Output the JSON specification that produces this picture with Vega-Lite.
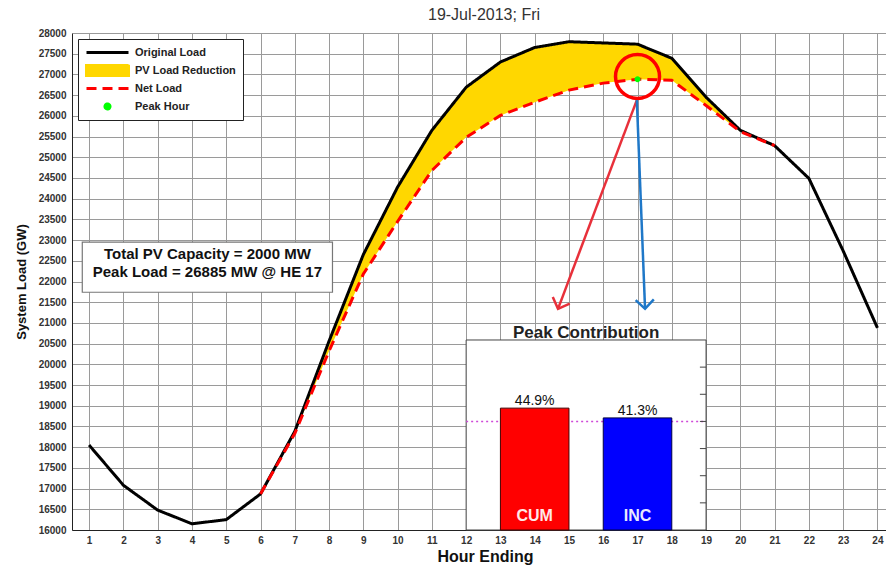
{
  "$schema": "https://vega.github.io/schema/vega-lite/v6.json",
  "width": 814,
  "height": 497,
  "autosize": {"type": "none"},
  "padding": {"left": 72, "top": 33, "right": 0, "bottom": 37},
  "background": "white",
  "title": {"text": "19-Jul-2013; Fri", "fontSize": 16, "fontWeight": "normal", "color": "#333", "font": "Liberation Sans", "offset": 5, "dx": 5},
  "config": {
    "view": {"stroke": null},
    "font": "Liberation Sans",
    "axis": {
      "labelFont": "Liberation Sans", "labelFontWeight": "bold", "labelFontSize": 10, "labelColor": "#333",
      "titleFont": "Liberation Sans", "titleFontWeight": "bold", "titleColor": "#111",
      "gridColor": "#9a9a9a", "gridOpacity": 1, "gridWidth": 1,
      "domainColor": "#222", "domainWidth": 1, "ticks": false, "labelOverlap": false
    },
    "legend": {
      "orient": "top-left", "offset": 6, "padding": 7,
      "strokeColor": "#222", "fillColor": "white",
      "symbolSize": 1764, "symbolStrokeWidth": 3, "clipHeight": 13, "rowPadding": 5,
      "labelFontSize": 11, "labelFontWeight": "bold", "labelFont": "Liberation Sans", "labelColor": "#222", "labelOffset": 5,
      "symbolOpacity": 1
    }
  },
  "datasets": {
    "load": [
      {"hour": 1, "original": 18050, "net": null},
      {"hour": 2, "original": 17080, "net": null},
      {"hour": 3, "original": 16480, "net": null},
      {"hour": 4, "original": 16150, "net": null},
      {"hour": 5, "original": 16250, "net": null},
      {"hour": 6, "original": 16870, "net": 16870},
      {"hour": 7, "original": 18380, "net": 18330},
      {"hour": 8, "original": 20560, "net": 20320},
      {"hour": 9, "original": 22650, "net": 22180},
      {"hour": 10, "original": 24280, "net": 23450},
      {"hour": 11, "original": 25650, "net": 24680},
      {"hour": 12, "original": 26690, "net": 25480},
      {"hour": 13, "original": 27300, "net": 26010},
      {"hour": 14, "original": 27650, "net": 26330},
      {"hour": 15, "original": 27790, "net": 26620},
      {"hour": 16, "original": 27760, "net": 26790},
      {"hour": 17, "original": 27730, "net": 26885},
      {"hour": 18, "original": 27390, "net": 26860},
      {"hour": 19, "original": 26450, "net": 26250},
      {"hour": 20, "original": 25650, "net": 25620},
      {"hour": 21, "original": 25280, "net": 25280},
      {"hour": 22, "original": 24490, "net": null},
      {"hour": 23, "original": 22740, "net": null},
      {"hour": 24, "original": 20880, "net": null}
    ],
    "inset": [
      {"metric": "CUM", "pct": 44.9, "label": "44.9%"},
      {"metric": "INC", "pct": 41.3, "label": "41.3%"}
    ]
  },
  "layer": [
    {
      "data": {"name": "load"},
      "layer": [
        {
          "transform": [{"filter": "datum.net != null"}],
          "mark": {"type": "area", "opacity": 1},
          "encoding": {
            "x": {"field": "hour", "type": "quantitative", "scale": {"domain": [0.5, 24.25], "nice": false, "zero": false},
              "axis": {"values": [1,2,3,4,5,6,7,8,9,10,11,12,13,14,15,16,17,18,19,20,21,22,23,24], "tickCount": 100, "format": "d", "labelOverlap": false, "title": "Hour Ending", "titleFontSize": 16, "labelPadding": 5, "titlePadding": 3, "titleX": 413}},
            "y": {"field": "original", "type": "quantitative", "scale": {"domain": [16000, 28000], "nice": false, "zero": false},
              "axis": {"values": [16000,16500,17000,17500,18000,18500,19000,19500,20000,20500,21000,21500,22000,22500,23000,23500,24000,24500,25000,25500,26000,26500,27000,27500,28000], "tickCount": 100, "labelOverlap": false, "format": "d", "title": "System Load (GW)", "titleFontSize": 13, "labelPadding": 6, "titlePadding": 10}},
            "y2": {"field": "net"},
            "color": {"datum": "PV Load Reduction", "type": "nominal",
              "scale": {"domain": ["Original Load", "PV Load Reduction", "Net Load", "Peak Hour"], "range": ["#000000", "#FFD700", "#FF0000", "#00FF00"]},
              "legend": {"title": null}}
          }
        },
        {
          "mark": {"type": "line", "strokeWidth": 3},
          "encoding": {
            "x": {"field": "hour", "type": "quantitative"},
            "y": {"field": "original", "type": "quantitative"},
            "color": {"datum": "Original Load", "type": "nominal", "legend": {"title": null}},
            "strokeDash": {"datum": "Original Load", "type": "nominal",
              "scale": {"domain": ["Original Load", "PV Load Reduction", "Net Load", "Peak Hour"], "range": [[1, 0], [1, 0], [10, 6], [1, 0]]},
              "legend": {"title": null}}
          }
        },
        {
          "transform": [{"filter": "datum.net != null"}],
          "mark": {"type": "line", "strokeWidth": 3},
          "encoding": {
            "x": {"field": "hour", "type": "quantitative"},
            "y": {"field": "net", "type": "quantitative"},
            "color": {"datum": "Net Load", "type": "nominal", "legend": {"title": null}},
            "strokeDash": {"datum": "Net Load", "type": "nominal", "legend": {"title": null}}
          }
        },
        {
          "transform": [{"filter": "datum.hour == 17"}],
          "mark": {"type": "point", "filled": true, "size": 2500, "opacity": 1},
          "encoding": {
            "x": {"field": "hour", "type": "quantitative"},
            "y": {"field": "net", "type": "quantitative"},
            "color": {"datum": "Peak Hour", "type": "nominal", "legend": {"title": null}},
            "shape": {"datum": "Peak Hour", "type": "nominal",
              "scale": {"domain": ["Original Load", "PV Load Reduction", "Net Load", "Peak Hour"], "range": ["stroke", "M-1,-0.27H1V0.27H-1Z", "stroke", "M0.12,0A0.12,0.12,0,1,1,-0.12,0A0.12,0.12,0,1,1,0.12,0Z"]},
              "legend": {"title": null}}
          }
        },
        {
          "data": {"values": [{}]},
          "mark": {"type": "point", "shape": "circle", "filled": false, "size": 1936, "stroke": "#FF0000", "strokeWidth": 3.5, "opacity": 1},
          "encoding": {"x": {"datum": 17}, "y": {"datum": 26950}}
        },
        {
          "data": {"values": [{}]},
          "mark": {"type": "rule", "stroke": "#E8303A", "strokeWidth": 2.5},
          "encoding": {"x": {"datum": 16.98}, "y": {"datum": 26380}, "x2": {"datum": 14.68}, "y2": {"datum": 21340}}
        },
        {
          "data": {"values": [{}]},
          "mark": {"type": "rule", "stroke": "#1F78C8", "strokeWidth": 2.5},
          "encoding": {"x": {"datum": 16.98}, "y": {"datum": 26380}, "x2": {"datum": 17.22}, "y2": {"datum": 21340}}
        },
        {
          "data": {"values": [{}]},
          "mark": {"type": "point", "shape": "M-1,-1L0,0L1,-1", "filled": false, "size": 330, "stroke": "#E8303A", "strokeWidth": 2.5, "opacity": 1, "angle": 21},
          "encoding": {"x": {"datum": 14.68}, "y": {"datum": 21340}}
        },
        {
          "data": {"values": [{}]},
          "mark": {"type": "point", "shape": "M-1,-1L0,0L1,-1", "filled": false, "size": 330, "stroke": "#1F78C8", "strokeWidth": 2.5, "opacity": 1, "angle": 358},
          "encoding": {"x": {"datum": 17.22}, "y": {"datum": 21340}}
        },
        {
          "data": {"values": [{}]},
          "mark": {"type": "rect", "fill": "white", "stroke": "#777", "strokeWidth": 1.2},
          "encoding": {"x": {"datum": 0.8}, "x2": {"datum": 8.1}, "y": {"datum": 21740}, "y2": {"datum": 22950}}
        },
        {
          "data": {"values": [{}]},
          "mark": {"type": "text", "text": ["Total PV Capacity = 2000 MW", "Peak Load = 26885 MW @ HE 17"], "font": "Liberation Sans", "fontWeight": "bold", "fontSize": 15, "lineHeight": 18, "baseline": "middle", "align": "center", "color": "#111"},
          "encoding": {"x": {"datum": 4.45}, "y": {"datum": 22670}}
        }
      ]
    },
    {
      "data": {"name": "inset"},
      "layer": [
        {
          "data": {"values": [{}]},
          "mark": {"type": "rect", "fill": "white", "stroke": "#444", "strokeWidth": 1},
          "encoding": {"x": {"datum": 12}, "x2": {"datum": 19}, "y": {"datum": 0, "type": "quantitative", "scale": {"domain": [0, 183.1], "nice": false, "zero": false}, "axis": null}, "y2": {"datum": 70}}
        },
        {
          "data": {"values": [{}]},
          "mark": {"type": "rule", "stroke": "#D048D8", "strokeWidth": 1.5, "strokeDash": [2, 3]},
          "encoding": {"x": {"datum": 12}, "x2": {"datum": 19}, "y": {"datum": 40, "type": "quantitative", "axis": null}}
        },
        {
          "data": {"values": [{"t": 10}, {"t": 20}, {"t": 30}, {"t": 40}, {"t": 50}, {"t": 60}]},
          "mark": {"type": "rule", "stroke": "#444", "strokeWidth": 1},
          "encoding": {"x": {"datum": 18.82}, "x2": {"datum": 19}, "y": {"field": "t", "type": "quantitative", "axis": null}}
        },
        {
          "transform": [{"filter": "datum.metric == 'CUM'"}],
          "mark": {"type": "rect", "fill": "#FF0000", "stroke": "#400", "strokeWidth": 1},
          "encoding": {"x": {"datum": 13}, "x2": {"datum": 15}, "y": {"field": "pct", "type": "quantitative", "axis": null}, "y2": {"datum": 0}}
        },
        {
          "transform": [{"filter": "datum.metric == 'INC'"}],
          "mark": {"type": "rect", "fill": "#0000FF", "stroke": "#004", "strokeWidth": 1},
          "encoding": {"x": {"datum": 16}, "x2": {"datum": 18}, "y": {"field": "pct", "type": "quantitative", "axis": null}, "y2": {"datum": 0}}
        },
        {
          "transform": [{"filter": "datum.metric == 'CUM'"}],
          "mark": {"type": "text", "font": "Liberation Sans", "fontSize": 14, "baseline": "bottom", "align": "center", "color": "#111"},
          "encoding": {"x": {"datum": 14}, "y": {"field": "pct", "type": "quantitative", "axis": null}, "text": {"field": "label"}}
        },
        {
          "transform": [{"filter": "datum.metric == 'INC'"}],
          "mark": {"type": "text", "font": "Liberation Sans", "fontSize": 14, "baseline": "bottom", "align": "center", "color": "#111"},
          "encoding": {"x": {"datum": 17}, "y": {"field": "pct", "type": "quantitative", "axis": null}, "text": {"field": "label"}}
        },
        {
          "transform": [{"filter": "datum.metric == 'CUM'"}],
          "mark": {"type": "text", "font": "Liberation Sans", "fontSize": 16, "fontWeight": "bold", "baseline": "middle", "align": "center", "color": "#FFE8E8"},
          "encoding": {"x": {"datum": 14}, "y": {"datum": 5, "type": "quantitative", "axis": null}, "text": {"field": "metric"}}
        },
        {
          "transform": [{"filter": "datum.metric == 'INC'"}],
          "mark": {"type": "text", "font": "Liberation Sans", "fontSize": 16, "fontWeight": "bold", "baseline": "middle", "align": "center", "color": "#E8E8FF"},
          "encoding": {"x": {"datum": 17}, "y": {"datum": 5, "type": "quantitative", "axis": null}, "text": {"field": "metric"}}
        },
        {
          "data": {"values": [{}]},
          "mark": {"type": "text", "text": "Peak Contribution", "font": "Liberation Sans", "fontSize": 17, "fontWeight": "bold", "baseline": "middle", "align": "center", "color": "#222"},
          "encoding": {"x": {"datum": 15.5}, "y": {"datum": 72.6, "type": "quantitative", "axis": null}}
        }
      ]
    }
  ],
  "resolve": {"scale": {"y": "independent"}}
}
